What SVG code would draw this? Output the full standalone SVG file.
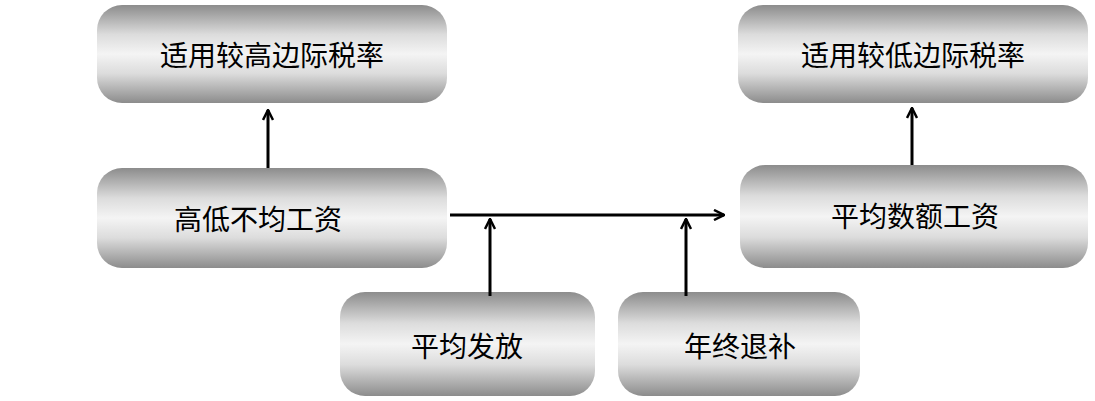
<svg xmlns="http://www.w3.org/2000/svg" width="1095" height="401" viewBox="0 0 1095 401">
<defs>
<linearGradient id="g" x1="0" y1="0" x2="0" y2="1">
<stop offset="0" stop-color="#8c8c8c"/>
<stop offset="0.3" stop-color="#dcdcdc"/>
<stop offset="0.5" stop-color="#f4f4f4"/>
<stop offset="0.7" stop-color="#dcdcdc"/>
<stop offset="1" stop-color="#8c8c8c"/>
</linearGradient>
<marker id="a" viewBox="0 0 12 12" refX="11" refY="6" markerWidth="12" markerHeight="12" markerUnits="userSpaceOnUse" orient="auto">
<path d="M1,1 L11,6 L1,11" fill="none" stroke="#000" stroke-width="2.5"/>
</marker>
</defs>
<style>
.b{fill:url(#g)}
text{font-family:"Noto Sans CJK SC",sans-serif;font-size:28px;fill:#000;text-anchor:middle;dominant-baseline:central}
.c{stroke:#000;stroke-width:3;fill:none}
</style>
<rect width="1095" height="401" fill="#fff"/>
<g id="n1"><rect class="b" x="97" y="5" width="350" height="98" rx="25"/><text x="272" y="54">适用较高边际税率</text></g>
<g id="n2"><rect class="b" x="738" y="5" width="350" height="98" rx="25"/><text x="913" y="54">适用较低边际税率</text></g>
<g id="n3"><rect class="b" x="97" y="168" width="350" height="100" rx="25"/><text x="258" y="218">高低不均工资</text></g>
<g id="n4"><rect class="b" x="740" y="165" width="348" height="103" rx="25"/><text x="915" y="215">平均数额工资</text></g>
<g id="n5"><rect class="b" x="340" y="292" width="255" height="104" rx="25"/><text x="467" y="345">平均发放</text></g>
<g id="n6"><rect class="b" x="618" y="292" width="242" height="104" rx="25"/><text x="740" y="345">年终退补</text></g>
<g id="edges">
<line class="c" x1="268" y1="168" x2="268" y2="110" marker-end="url(#a)"/>
<line class="c" x1="912" y1="165" x2="912" y2="108" marker-end="url(#a)"/>
<line class="c" x1="450" y1="215" x2="724" y2="215" marker-end="url(#a)"/>
<line class="c" x1="490" y1="296" x2="490" y2="219" marker-end="url(#a)"/>
<line class="c" x1="686" y1="296" x2="686" y2="219" marker-end="url(#a)"/>
</g>
</svg>
